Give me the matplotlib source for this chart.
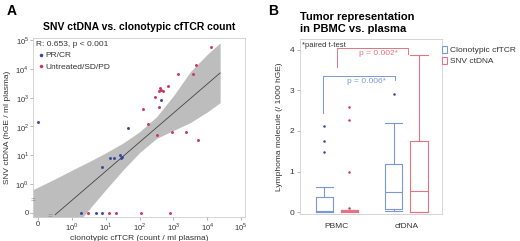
import numpy as np
import matplotlib
matplotlib.use("Agg")
import matplotlib.pyplot as plt
from matplotlib.patches import Patch

plt.rcParams["font.family"] = ["Liberation Sans", "DejaVu Sans"]
plt.rcParams["mathtext.fontset"] = "custom"
plt.rcParams["mathtext.rm"] = "Liberation Sans"

# ---- panel A data (counts / ml plasma, hGE / ml plasma); 0 = not detected
pr_x = [427, 45, 0, 13.2, 17.8, 26.3, 27.5, 29.5, 7.6, 1.9, 5.1, 7.6]
pr_y = [850, 85, 138, 7.8, 7.8, 10.2, 8.1, 8.9, 4.0, 0, 0, 0]
pd_x = [12500, 4800, 1380, 3800, 676, 398, 372, 490, 427, 288, 126, 380, 182,
        324, 933, 2340, 5250, 2.9, 12.3, 20.4, 110, 776]
pd_y = [59000, 13500, 6450, 6760, 2570, 2140, 1700, 1700, 1900, 1050, 389, 457, 117,
        48, 65, 63, 34, 0, 0, 0, 0, 0]

# regression in log10 space and its confidence band
fit_intercept = -0.57
fit_slope = 1.01
fit_range = [0.32, 24000]
band_x = [0.07, 0.32, 1, 3.2, 10, 32, 100, 316, 1000, 3160, 10000, 24000]
band_hi = [0.63, 1.5, 3.0, 5.9, 12, 26, 65, 214, 1150, 7900, 31600, 79400]
band_lo = [0.001, 0.0047, 0.025, 0.13, 0.63, 3.0, 12.3, 38, 72, 135, 316, 660]

log_ticks = [0.1, 1, 10, 100, 1e3, 1e4, 1e5]
log_labels = ["0", "$10^0$", "$10^1$", "$10^2$", "$10^3$", "$10^4$", "$10^5$"]
ZERO_POS = 0.1  # where zero values are drawn on the broken log axis

# ---- panel B data (lymphoma molecules / 1000 hGE)
groups = ["PBMC", "cfDNA"]
tcr_stats = [
    dict(whislo=0.0, q1=0.01, med=0.03, q3=0.37, whishi=0.63, fliers=[1.47, 1.75, 2.13]),
    dict(whislo=0.02, q1=0.07, med=0.49, q3=1.18, whishi=2.19, fliers=[2.9]),
]
snv_stats = [
    dict(whislo=0.0, q1=0.01, med=0.03, q3=0.05, whishi=0.06, fliers=[0.1, 1.0, 2.27, 2.58]),
    dict(whislo=0.0, q1=0.0, med=0.52, q3=1.75, whishi=3.86, fliers=[]),
]
p_tcr = "p = 0.006*"
p_snv = "p = 0.002*"

BLUE_DOT = "#34479c"
RED_DOT = "#cc3560"
BLUE = "#7a98d6"
RED = "#e27483"
FRAME = "#cfcfcf"
TXT = "#333333"

fig = plt.figure(figsize=(5.2, 2.41), dpi=100)

# ================= panel A
ax = fig.add_axes([0.0635, 0.0996, 0.408, 0.743])
ax.set_xscale("log")
ax.set_yscale("log")

ax.fill_between(band_x, band_lo, band_hi, color="#bdbdbd", lw=0, zorder=1)
fx = np.geomspace(fit_range[0], fit_range[1], 50)
fy = 10 ** (fit_intercept + fit_slope * np.log10(fx))
ax.plot(fx, fy, color="#444444", lw=0.6, zorder=2)


def place(v):
    v = np.asarray(v, dtype=float)
    return np.where(v > 0, v, ZERO_POS)


ax.scatter(place(pr_x), place(pr_y), s=4.5, color=BLUE_DOT, lw=0, zorder=3,
           label="PR/CR", clip_on=False)
ax.scatter(place(pd_x), place(pd_y), s=4.5, color=RED_DOT, lw=0, zorder=3,
           label="Untreated/SD/PD", clip_on=False)

ax.set_xlim(10 ** -1.15, 10 ** 5.12)
ax.set_ylim(10 ** -1.15, 10 ** 5.07)
ax.set_xticks(log_ticks)
ax.set_xticklabels(log_labels)
ax.set_yticks(log_ticks)
ax.set_yticklabels(log_labels)
ax.minorticks_off()
ax.tick_params(labelsize=5.5, length=2, width=0.5, color="#999999",
               labelcolor=TXT, pad=1)
for s in ax.spines.values():
    s.set_color(FRAME)
    s.set_linewidth(0.6)

# axis break marks between 0 and 10^0
ax.text(0, 10 ** -0.6, "=", transform=ax.get_yaxis_transform(), ha="center",
        va="center", fontsize=6, color="#888888", clip_on=False)
ax.text(10 ** -0.65, 0, "=", transform=ax.get_xaxis_transform(), ha="center",
        va="center", fontsize=6, color="#888888", clip_on=False)

ax.set_xlabel("clonotypic cfTCR (count / ml plasma)", fontsize=6, color=TXT, labelpad=1)
ax.set_ylabel("SNV ctDNA (hGE / ml plasma)", fontsize=6, color=TXT, labelpad=3)
ax.set_title("SNV ctDNA vs. clonotypic cfTCR count", fontsize=7.5,
             fontweight="bold", pad=6)
leg = ax.legend(loc="upper left", frameon=False, fontsize=6, markerscale=1.2,
                handletextpad=0.1, handlelength=1.0, borderaxespad=0.2,
                labelspacing=0.4, title="R: 0.653, p < 0.001",
                title_fontsize=6, alignment="left", borderpad=0.2)
leg.get_title().set_color(TXT)
for t in leg.get_texts():
    t.set_color(TXT)

fig.text(0.012, 0.955, "A", fontsize=10, fontweight="bold", va="center")

# ================= panel B
bx_ax = fig.add_axes([0.577, 0.111, 0.2725, 0.727])
offset = 0.18
width = 0.25
pos = np.arange(len(groups))


def draw(stats, positions, color, dot):
    bx_ax.bxp(stats, positions=positions, widths=width, capwidths=width,
              showfliers=True, patch_artist=False,
              boxprops=dict(color=color, lw=0.8),
              medianprops=dict(color=color, lw=0.8),
              whiskerprops=dict(color=color, lw=0.8),
              capprops=dict(color=color, lw=0.8),
              flierprops=dict(marker="o", markersize=1.8, markerfacecolor=dot,
                              markeredgewidth=0, linestyle="none"))


draw(tcr_stats, pos - offset, BLUE, BLUE_DOT)
draw(snv_stats, pos + offset, RED, RED_DOT)

# significance brackets
bx_ax.plot([-0.196, -0.196, 0.83, 0.83], [2.45, 3.35, 3.35, 3.25], color=BLUE, lw=0.7)
bx_ax.text(0.43, 3.3, p_tcr, color=BLUE, fontsize=6, ha="center", va="top")
bx_ax.plot([0.006, 0.006, 1.02, 1.02], [3.58, 4.04, 4.04, 3.9], color=RED, lw=0.7)
bx_ax.text(0.6, 3.98, p_snv, color=RED, fontsize=6, ha="center", va="top")
bx_ax.text(0.015, 0.985, "*paired t-test", transform=bx_ax.transAxes, fontsize=5.5,
           color=TXT, va="top", ha="left")

bx_ax.set_xlim(-0.53, 1.51)
bx_ax.set_ylim(-0.05, 4.26)
bx_ax.set_xticks(pos)
bx_ax.set_xticklabels(groups)
bx_ax.set_yticks([0, 1, 2, 3, 4])
bx_ax.tick_params(axis="x", length=0, labelsize=6, labelcolor=TXT, pad=6)
bx_ax.tick_params(axis="y", length=2, width=0.5, color="#999999", labelsize=6,
                  labelcolor=TXT, pad=2)
for s in bx_ax.spines.values():
    s.set_color(FRAME)
    s.set_linewidth(0.6)
bx_ax.set_ylabel("Lymphoma molecule (/ 1000 hGE)", fontsize=6, color=TXT, labelpad=5)
bx_ax.set_title("Tumor representation\nin PBMC vs. plasma", fontsize=8,
                fontweight="bold", loc="left", pad=5, x=0.0)

handles = [Patch(facecolor="white", edgecolor=BLUE, lw=0.8),
           Patch(facecolor="white", edgecolor=RED, lw=0.8)]
fig.legend(handles, ["Clonotypic cfTCR", "SNV ctDNA"], loc="upper left",
           bbox_to_anchor=(0.835, 0.84), frameon=False, fontsize=6,
           handlelength=0.6, handleheight=0.9, handletextpad=0.4,
           labelspacing=0.3, labelcolor=TXT)

fig.text(0.515, 0.955, "B", fontsize=10, fontweight="bold", va="center")

fig.savefig("out.png", dpi=100)
